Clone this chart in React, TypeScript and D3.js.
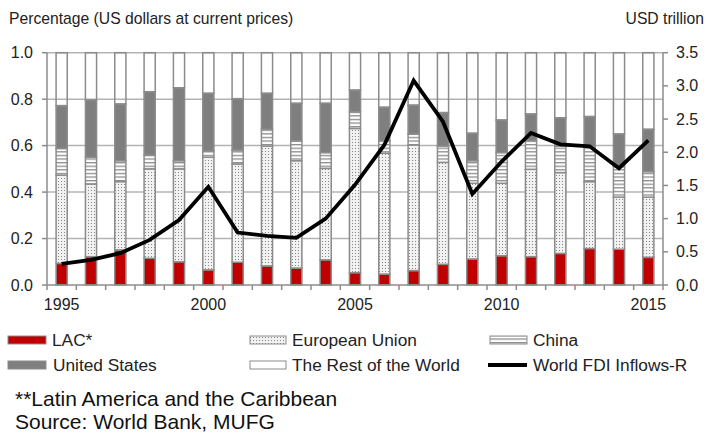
import React from "react";
import * as d3 from "d3";

const years = d3.range(1995, 2016).map(String);
const lac = [0.093, 0.122, 0.151, 0.115, 0.1, 0.065, 0.098, 0.082, 0.073, 0.108, 0.053, 0.047, 0.062, 0.089, 0.112, 0.126, 0.122, 0.136, 0.157, 0.154, 0.119];
const eu = [0.38, 0.313, 0.294, 0.385, 0.4, 0.485, 0.423, 0.516, 0.462, 0.394, 0.621, 0.52, 0.541, 0.439, 0.326, 0.312, 0.376, 0.348, 0.288, 0.224, 0.259];
const china = [0.115, 0.115, 0.09, 0.06, 0.035, 0.027, 0.06, 0.072, 0.086, 0.068, 0.072, 0.054, 0.047, 0.07, 0.097, 0.132, 0.123, 0.114, 0.15, 0.132, 0.11];
const us = [0.184, 0.246, 0.244, 0.272, 0.314, 0.248, 0.221, 0.155, 0.161, 0.212, 0.093, 0.144, 0.124, 0.144, 0.118, 0.14, 0.115, 0.122, 0.13, 0.14, 0.182];
const fdi = [0.32, 0.38, 0.48, 0.68, 0.98, 1.48, 0.79, 0.74, 0.71, 1.0, 1.51, 2.11, 3.08, 2.46, 1.37, 1.86, 2.29, 2.12, 2.09, 1.76, 2.18];
const leftTicks = [0, 0.2, 0.4, 0.6, 0.8, 1.0];
const rightTicks = [0, 0.5, 1, 1.5, 2, 2.5, 3, 3.5];
const xLabels = ["1995", "2000", "2005", "2010", "2015"];

const W = 710, H = 433;
const L = 47, R = 663, T = 52.7, B = 285;
const FONT = "'Liberation Sans', Arial, sans-serif";
const GRID = "#b3b3b3";
const OUT = "#8c8c8c";

export default function App() {
  const x = d3.scaleBand<string>().domain(years).range([L, R]).paddingInner(0.62).paddingOuter(0.31);
  const y = d3.scaleLinear().domain([0, 1]).range([B, T]);
  const y2 = d3.scaleLinear().domain([0, 3.5]).range([B, T]);
  const step = x.step();
  const bw = x.bandwidth();

  const rows = years.map((yr, i) => ({ yr, lac: lac[i], eu: eu[i], china: china[i], us: us[i], row: 1 - lac[i] - eu[i] - china[i] - us[i] }));
  const keys = ["lac", "eu", "china", "us", "row"];
  const fills: Record<string, string> = { lac: "#c00000", eu: "url(#dots)", china: "url(#stripes)", us: "#7f7f7f", row: "none" };
  const stack = d3.stack<any>().keys(keys)(rows);

  const line = d3.line<number>().x((_, i) => (x(years[i]) as number) + bw / 2).y((d) => y2(d));

  const boundaries = d3.range(0, years.length + 1).map((i) => L + i * step);

  return (
    <svg width={W} height={H} style={{ position: "absolute", left: 0, top: 0, background: "#fff" }} fontFamily={FONT}>
      <defs>
        <pattern id="dots" width="3" height="3" patternUnits="userSpaceOnUse">
          <rect width="3" height="3" fill="#f2f2f2" />
          <rect x="1" y="1" width="1" height="1" fill="#858585" />
        </pattern>
        <pattern id="stripes" width="4" height="3.6" patternUnits="userSpaceOnUse">
          <rect width="4" height="3.6" fill="#ffffff" />
          <rect y="0" width="4" height="1.3" fill="#8c8c8c" />
        </pattern>
      </defs>
      <rect width={W} height={H} fill="#fff" />
      <text x={9} y={24} fontSize={15.7} fill="#222">Percentage (US dollars at current prices)</text>
      <text x={704} y={24} fontSize={15.7} fill="#222" textAnchor="end">USD trillion</text>

      {leftTicks.slice(1).map((t) => (
        <line key={t} x1={L} x2={R} y1={y(t)} y2={y(t)} stroke={GRID} strokeWidth={1.5} />
      ))}

      {stack.map((layer) => (
        <g key={layer.key}>
          {layer.map((d, i) => (
            <rect key={i} x={x(years[i])} width={bw} y={y(d[1])} height={y(d[0]) - y(d[1])}
              fill={fills[layer.key]} stroke={OUT} strokeWidth={1.5} />
          ))}
        </g>
      ))}

      <line x1={L} x2={L} y1={T} y2={B} stroke={OUT} strokeWidth={1.5} />
      <line x1={R} x2={R} y1={T} y2={B} stroke={OUT} strokeWidth={1.5} />
      <line x1={L} x2={R} y1={B} y2={B} stroke={OUT} strokeWidth={1.5} />
      {leftTicks.map((t) => (
        <g key={t}>
          <line x1={L - 5} x2={L} y1={y(t)} y2={y(t)} stroke={OUT} strokeWidth={1.5} />
          <text x={33} y={y(t) + 5.5} fontSize={16} textAnchor="end" fill="#222">{t.toFixed(1)}</text>
        </g>
      ))}
      {rightTicks.map((t) => (
        <g key={t}>
          <line x1={R} x2={R + 5} y1={y2(t)} y2={y2(t)} stroke={OUT} strokeWidth={1.5} />
          <text x={676} y={y2(t) + 5.5} fontSize={16} fill="#222">{t.toFixed(1)}</text>
        </g>
      ))}
      {boundaries.map((b, i) => (
        <line key={i} x1={b} x2={b} y1={B} y2={B + 5} stroke={OUT} strokeWidth={1.5} />
      ))}
      {xLabels.map((lb) => (
        <text key={lb} x={(x(lb) as number) + bw / 2} y={310} fontSize={16} textAnchor="middle" fill="#222">{lb}</text>
      ))}

      <path d={line(fdi) as string} fill="none" stroke="#000" strokeWidth={3.8} />

      {/* legend */}
      <rect x={8} y={336} width={38} height={8} fill="#c00000" stroke={OUT} strokeWidth={1} />
      <text x={52} y={346} fontSize={17.3} fill="#222">LAC*</text>
      <rect x={250} y={336} width={36} height={8} fill="url(#dots)" stroke={OUT} strokeWidth={1} />
      <text x={292} y={346} fontSize={17.3} fill="#222">European Union</text>
      <rect x={490} y={336} width={37} height={8} fill="url(#stripes)" stroke={OUT} strokeWidth={1} />
      <text x={533} y={346} fontSize={17.3} fill="#222">China</text>

      <rect x={8} y={361} width={38} height={8} fill="#7f7f7f" stroke={OUT} strokeWidth={1} />
      <text x={53} y={371} fontSize={17.3} fill="#222">United States</text>
      <rect x={250} y={361} width={36} height={8} fill="#fff" stroke={OUT} strokeWidth={1} />
      <text x={292} y={371} fontSize={17.3} fill="#222">The Rest of the World</text>
      <line x1={488} x2={527} y1={365} y2={365} stroke="#000" strokeWidth={3.8} />
      <text x={533} y={371} fontSize={17.3} fill="#222">World FDI Inflows-R</text>

      <text x={15} y={406} fontSize={21} fill="#111">**Latin America and the Caribbean</text>
      <text x={15} y={429} fontSize={21} fill="#111">Source: World Bank, MUFG</text>
    </svg>
  );
}
